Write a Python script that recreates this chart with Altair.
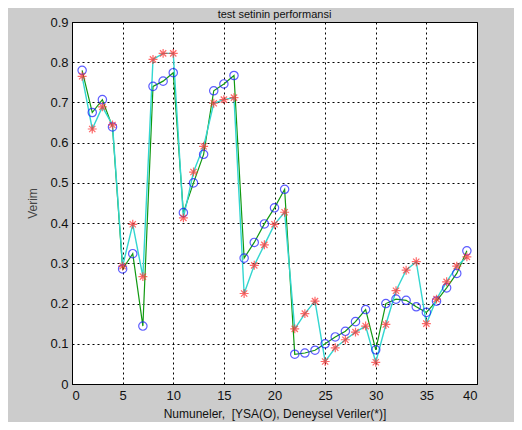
import altair as alt
import pandas as pd

numune = list(range(1, 40))
ysa = [0.780, 0.675, 0.707, 0.639, 0.286, 0.324, 0.144, 0.740, 0.753, 0.774,
       0.426, 0.500, 0.571, 0.729, 0.746, 0.767, 0.313, 0.352, 0.398, 0.438,
       0.484, 0.074, 0.077, 0.084, 0.100, 0.117, 0.131, 0.155, 0.185, 0.085,
       0.200, 0.211, 0.208, 0.192, 0.178, 0.206, 0.239, 0.275, 0.331]
deneysel = [0.765, 0.634, 0.689, 0.644, 0.293, 0.397, 0.267, 0.807, 0.822, 0.822,
            0.413, 0.527, 0.591, 0.698, 0.707, 0.712, 0.225, 0.295, 0.346, 0.397,
            0.427, 0.137, 0.175, 0.206, 0.056, 0.090, 0.110, 0.129, 0.144, 0.054,
            0.148, 0.232, 0.283, 0.304, 0.150, 0.211, 0.254, 0.293, 0.316]
x_ticks = [0, 5, 10, 15, 20, 25, 30, 35, 40]
y_ticks = [0, 0.1, 0.2, 0.3, 0.4, 0.5, 0.6, 0.7, 0.8, 0.9]

df = pd.DataFrame({"n": numune, "ysa": ysa, "den": deneysel})

FONT = "Liberation Sans"

x_enc = alt.X("n:Q", scale=alt.Scale(domain=[0, 40], nice=False),
              axis=alt.Axis(values=x_ticks,
                            title="Numuneler,\u00a0 [YSA(O), Deneysel Veriler(*)]",
                            format="d", labelPadding=5, titlePadding=6))
y_axis = alt.Axis(values=y_ticks, title="Verim", format=".1~f", labelPadding=4,
                  titlePadding=10, titleColor="#444444")
y_scale = alt.Scale(domain=[0, 0.9], nice=False)

base = alt.Chart(df)

line_ysa = base.mark_line(color="#119911", strokeWidth=1.2).encode(
    x=x_enc, y=alt.Y("ysa:Q", scale=y_scale, axis=y_axis))
line_den = base.mark_line(color="#33d6d0", strokeWidth=1.4).encode(
    x=x_enc, y=alt.Y("den:Q", scale=y_scale, axis=y_axis))

pts_ysa = base.mark_point(shape="circle", filled=False, color="#1a1aff", size=70,
                          strokeWidth=1.2).encode(
    x=x_enc, y=alt.Y("ysa:Q", scale=y_scale, axis=y_axis))
star_path = "M-1,0L1,0M0,-1L0,1M-0.7,-0.7L0.7,0.7M-0.7,0.7L0.7,-0.7"
pts_den = base.mark_point(shape=star_path, filled=False, color="#ff2a2a", size=80,
                          strokeWidth=1.2).encode(
    x=x_enc, y=alt.Y("den:Q", scale=y_scale, axis=y_axis))

chart = alt.layer(line_ysa, line_den, pts_ysa, pts_den).properties(
    width=405, height=362,
    title=alt.TitleParams("test setinin performansi", fontSize=11, fontWeight="normal",
                          font=FONT, color="#111111", offset=-4, anchor="middle"),
    background="#cccccc",
    autosize=alt.AutoSizeParams(type="none"),
    padding={"left": 64, "top": 14, "right": 37, "bottom": 38},
).configure_view(
    fill="white", stroke="black", strokeWidth=1
).configure_axis(
    grid=True, gridColor="black", gridDash=[2, 3], gridOpacity=1, gridWidth=1,
    ticks=False, domainColor="black", domainWidth=1,
    labelFont=FONT, labelFontSize=13, labelColor="#111111",
    titleFont=FONT, titleFontSize=12, titleFontWeight="normal", titleColor="#111111",
)

chart.save("out.html", embed_options={"renderer": "svg", "actions": False})
